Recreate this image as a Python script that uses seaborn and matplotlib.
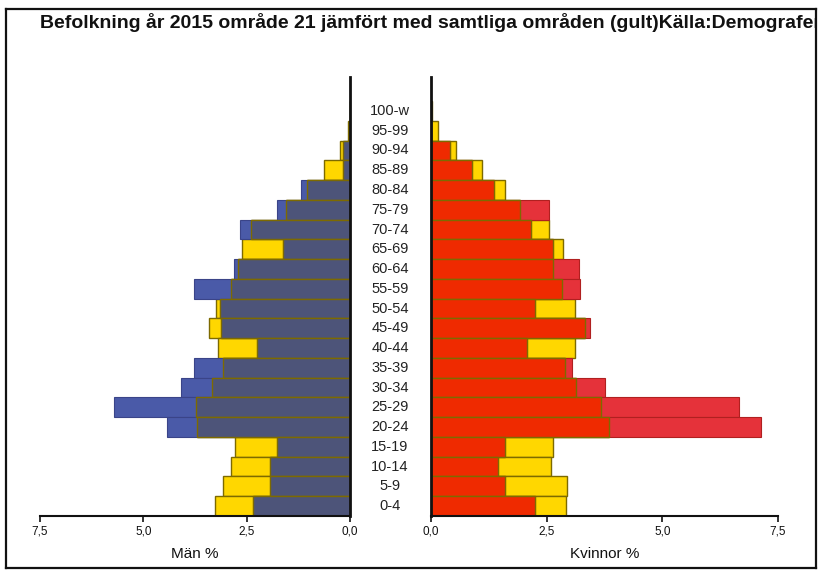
import numpy as np
import pandas as pd
import seaborn as sns
import matplotlib
matplotlib.use("Agg")
import matplotlib.pyplot as plt
import matplotlib.transforms as mtransforms

# Åldersgrupper (nerifrån och upp)
ages = ["0-4", "5-9", "10-14", "15-19", "20-24", "25-29", "30-34", "35-39",
        "40-44", "45-49", "50-54", "55-59", "60-64", "65-69", "70-74",
        "75-79", "80-84", "85-89", "90-94", "95-99", "100-w"]

# Män % - område 21 och samtliga områden (gult)
men_area = [2.34, 1.93, 1.93, 1.76, 4.43, 5.72, 4.10, 3.78, 2.25, 3.13, 3.14,
            3.78, 2.81, 1.61, 2.65, 1.76, 1.19, 0.16, 0.16, 0.0, 0.0]
men_all = [3.26, 3.07, 2.87, 2.78, 3.71, 3.72, 3.33, 3.07, 3.19, 3.41, 3.24,
           2.87, 2.70, 2.62, 2.39, 1.54, 1.04, 0.62, 0.23, 0.06, 0.01]

# Kvinnor % - område 21 och samtliga områden (gult)
women_area = [2.24, 1.61, 1.44, 1.61, 7.13, 6.65, 3.76, 3.04, 2.08, 3.44, 2.24,
              3.21, 3.20, 2.63, 2.16, 2.56, 1.36, 0.88, 0.41, 0.0, 0.0]
women_all = [2.92, 2.95, 2.60, 2.64, 3.84, 3.67, 3.13, 2.89, 3.12, 3.32, 3.12,
             2.83, 2.63, 2.86, 2.54, 1.92, 1.61, 1.11, 0.54, 0.16, 0.02]

xticks = [0.0, 2.5, 5.0, 7.5]
xticklabels = ["0,0", "2,5", "5,0", "7,5"]

title = "Befolkning år 2015 område 21 jämfört med samtliga områden (gult)Källa:Demografen"

df = pd.DataFrame({
    "age": ages,
    "men_area": men_area,
    "men_all": men_all,
    "women_area": women_area,
    "women_all": women_all,
})
# den del där området och samtliga överlappar
df["men_overlap"] = np.minimum(df["men_area"], df["men_all"])
df["women_overlap"] = np.minimum(df["women_area"], df["women_all"])

order = ages[::-1]

YELLOW = "#ffd700"
OLIVE = "#7d6a00"
BLUE = "#4a5aa8"
SLATE = "#4d5479"
RED = "#e5323a"
ORANGE_RED = "#ef2a00"

sns.set_style("white")
plt.rcParams["font.family"] = ["Liberation Sans", "DejaVu Sans"]

W, H = 819, 570
fig = plt.figure(figsize=(W / 100, H / 100), dpi=100)

# ram runt hela bilden + titel (klipps av vid ramen)
ax_bg = fig.add_axes([6 / W, 2 / H, 810 / W, 559 / H])
ax_bg.set_xticks([])
ax_bg.set_yticks([])
for s in ax_bg.spines.values():
    s.set_color("#111111")
    s.set_linewidth(1.6)
ax_bg.set_zorder(0)
ax_bg.text(34 / 810, 1 - 14 / 559, title, transform=ax_bg.transAxes,
           fontsize=14, fontweight="bold", ha="left", va="center",
           clip_on=True, color="#111111")

bottom = (H - 516) / H
height = (516 - 77) / H
axL = fig.add_axes([40 / W, bottom, 310 / W, height])
axR = fig.add_axes([431 / W, bottom, 347 / W, height])


def pyramid(ax, col_all, col_area, col_overlap, c_area, c_overlap, edge_area):
    sns.barplot(data=df, x=col_all, y="age", order=order, orient="h", ax=ax,
                color=YELLOW, saturation=1, width=1.0,
                edgecolor=OLIVE, linewidth=1.0)
    sns.barplot(data=df, x=col_area, y="age", order=order, orient="h", ax=ax,
                color=c_area, saturation=1, width=1.0,
                edgecolor=edge_area, linewidth=0.8)
    sns.barplot(data=df, x=col_overlap, y="age", order=order, orient="h", ax=ax,
                color=c_overlap, saturation=1, width=1.0,
                edgecolor=OLIVE, linewidth=1.0)
    ax.set_ylim(20.5, -1.72)
    ax.set_xticks(xticks)
    ax.set_xticklabels(xticklabels, fontsize=8.5)
    ax.set_yticks([])
    ax.set_ylabel("")
    ax.patch.set_alpha(0)
    ax.tick_params(axis="x", direction="out", length=4.5, width=1.2, pad=2,
                   bottom=True, colors="#111111")
    ax.spines["top"].set_visible(False)
    ax.spines["bottom"].set_linewidth(1.5)
    ax.spines["bottom"].set_color("#111111")
    ax.set_zorder(1)


pyramid(axL, "men_all", "men_area", "men_overlap", BLUE, SLATE, "#3a4488")
axL.set_xlim(7.5, 0)
axL.spines["left"].set_visible(False)
axL.spines["right"].set_visible(True)
axL.spines["right"].set_linewidth(2)
axL.spines["right"].set_color("#111111")
axL.set_xlabel("Män %", fontsize=11, labelpad=7, color="#111111")

pyramid(axR, "women_all", "women_area", "women_overlap", RED, ORANGE_RED, "#b02020")
axR.set_xlim(0, 7.5)
axR.spines["right"].set_visible(False)
axR.spines["left"].set_visible(True)
axR.spines["left"].set_linewidth(2)
axR.spines["left"].set_color("#111111")
axR.set_xlabel("Kvinnor %", fontsize=11, labelpad=7, color="#111111")

# åldersetiketter mellan de två halvorna
trans = mtransforms.blended_transform_factory(fig.transFigure, axR.transData)
for i, a in enumerate(order):
    fig.text(390 / W, i, a, transform=trans, ha="center", va="center",
             fontsize=10.5, color="#222222")

fig.savefig("out.png", dpi=100)
